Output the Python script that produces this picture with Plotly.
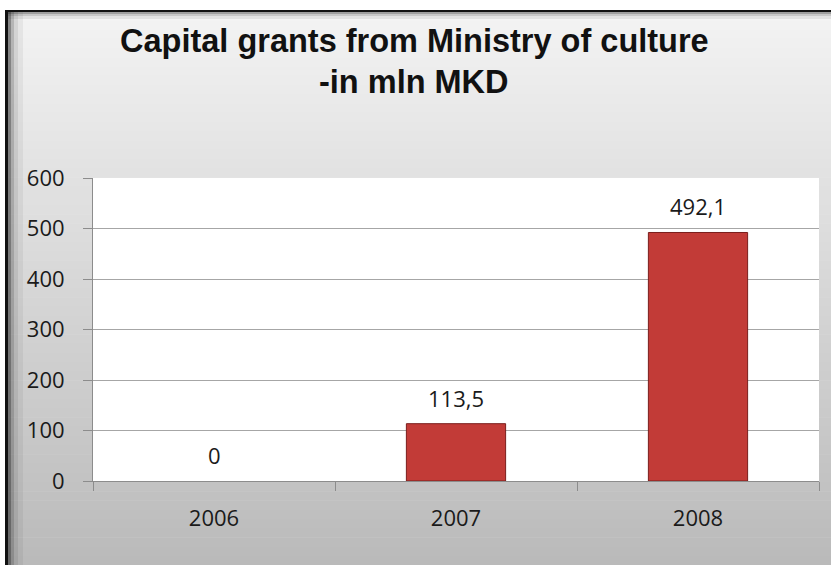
import plotly.graph_objects as go

categories = ["2006", "2007", "2008"]
values = [0, 113.5, 492.1]
y_ticks = [0, 100, 200, 300, 400, 500, 600]
title_lines = ["Capital grants from Ministry of culture", "-in mln MKD"]

W, H = 831, 565
L, R, T, B = 93, 12, 178, 84
PW, PH = W - L - R, H - T - B

def xp(px):
    return (px - L) / PW

def yp(py):
    return (H - B - py) / PH

def lerp(c1, c2, t):
    return "rgb(%d,%d,%d)" % tuple(round(a + (b - a) * t) for a, b in zip(c1, c2))

shapes = []
# vertical gray gradient background of the chart frame
top_c, bot_c = (243, 243, 243), (186, 186, 186)
y0, y1 = 11, H
n = 60
for i in range(n):
    a = y0 + (y1 - y0) * i / n
    b = y0 + (y1 - y0) * (i + 1) / n + 0.5
    shapes.append(dict(type="rect", xref="paper", yref="paper", layer="below",
                       x0=xp(6), x1=xp(W + 2), y0=yp(b), y1=yp(a),
                       line=dict(width=0), fillcolor=lerp(top_c, bot_c, (i + 0.5) / n)))
# left inner shadow
xs = 8
for w, op in [(3, 0.45), (3, 0.25), (4, 0.12), (5, 0.05)]:
    shapes.append(dict(type="rect", xref="paper", yref="paper", layer="below",
                       x0=xp(xs), x1=xp(xs + w), y0=yp(H + 2), y1=yp(11),
                       line=dict(width=0), fillcolor="rgba(0,0,0,%g)" % op))
    xs += w
# top inner shadow
ys = 12
for h, op in [(2, 0.35), (2, 0.18), (3, 0.07)]:
    shapes.append(dict(type="rect", xref="paper", yref="paper", layer="below",
                       x0=xp(8), x1=xp(W + 2), y0=yp(ys + h), y1=yp(ys),
                       line=dict(width=0), fillcolor="rgba(0,0,0,%g)" % op))
    ys += h
# black frame lines
shapes.append(dict(type="rect", xref="paper", yref="paper", layer="below",
                   x0=xp(5), x1=xp(8), y0=yp(H + 2), y1=yp(10),
                   line=dict(width=0), fillcolor="#111111"))
shapes.append(dict(type="rect", xref="paper", yref="paper", layer="below",
                   x0=xp(5), x1=xp(W + 2), y0=yp(12), y1=yp(10),
                   line=dict(width=0), fillcolor="#111111"))
# white plot area
shapes.append(dict(type="rect", xref="paper", yref="paper", layer="below",
                   x0=0, x1=1, y0=0, y1=1, line=dict(width=0), fillcolor="white"))

labels = [f"{v:g}".replace(".", ",") for v in values]

fig = go.Figure()
fig.add_trace(go.Bar(
    x=categories, y=values, width=0.41,
    marker=dict(color="#c23b37",
                line=dict(color="#7a1e1c", width=[0 if v == 0 else 1 for v in values])),
    hoverinfo="skip",
))

label_font = dict(family="Open Sans", size=22, color="#1a1a1a")
annotations = []
for i, (v, t) in enumerate(zip(values, labels)):
    annotations.append(dict(x=i, y=v, text=t, showarrow=False, yshift=26,
                            yanchor="middle", xanchor="center", font=label_font))
title_font = dict(family="Liberation Sans", size=32.5, color="#111111")
annotations.append(dict(xref="paper", yref="paper", x=xp(414), y=yp(41), text="<b>" + title_lines[0] + "</b>",
                        showarrow=False, xanchor="center", yanchor="middle", font=title_font))
annotations.append(dict(xref="paper", yref="paper", x=xp(414), y=yp(82), text="<b>" + title_lines[1] + "</b>",
                        showarrow=False, xanchor="center", yanchor="middle", font=title_font))

fig.update_layout(
    width=W, height=H,
    margin=dict(l=L, r=R, t=T, b=B, pad=0),
    paper_bgcolor="white", plot_bgcolor="white",
    showlegend=False, shapes=shapes, annotations=annotations,
)
fig.update_xaxes(
    type="category", range=[-0.5, len(categories) - 0.5], autorange=False,
    showline=True, linecolor="#8c8c8c", linewidth=1,
    ticks="outside", tickson="boundaries", ticklen=9, tickcolor="#8c8c8c",
    showgrid=False, ticklabelstandoff=18, tickangle=0,
    tickfont=label_font,
)
fig.update_yaxes(
    range=[0, 600], autorange=False, tickvals=y_ticks, showline=True, linecolor="#8c8c8c", linewidth=1,
    ticks="outside", ticklen=9, tickcolor="#8c8c8c",
    showgrid=True, gridcolor="#a6a6a6", gridwidth=1, zeroline=False,
    ticklabelstandoff=14,
    tickfont=label_font,
)

fig.write_html("out.html")
